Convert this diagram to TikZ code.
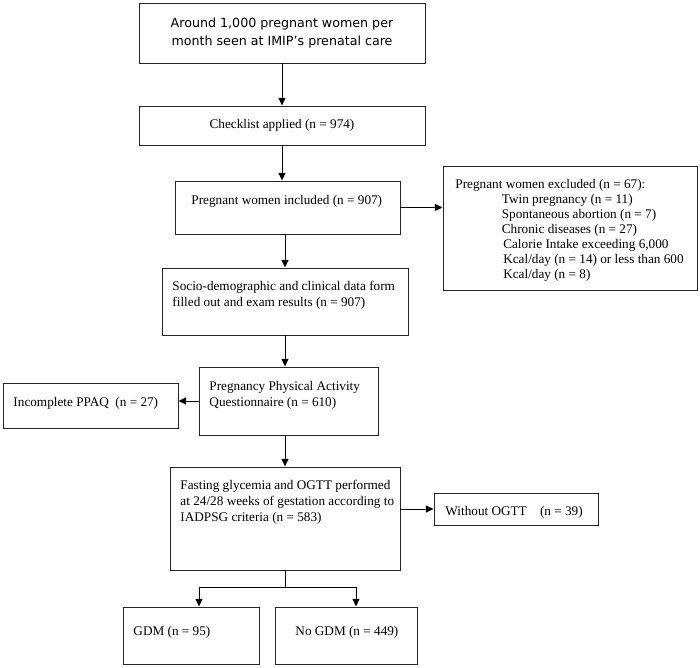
\documentclass[tikz,border=0pt]{standalone}
\usepackage{fontspec}
\setmainfont{Liberation Serif}
\newfontfamily\topfont{DejaVu Sans}
\usetikzlibrary{arrows.meta}

\begin{document}
\begin{tikzpicture}
            [x=0.025cm, y=-0.025cm, >={Triangle[length=5.5pt,width=5pt]}, line width=0.7pt,
             box/.style n args={2}{draw=black!85, minimum width=#1*0.025cm, minimum height=#2*0.025cm, inner sep=0pt},
             txt/.style={anchor=north west, inner sep=0pt, align=left, font=\fontsize{9.4}{11.4}\selectfont}]
            \useasboundingbox (0,0) rectangle (700,667);

            \node[box={286}{60}, align=center, font=\topfont\fontsize{9}{12.8}\selectfont] (start) at (282,33) {Around 1,000 pregnant women per\\month seen at IMIP’s prenatal care};
            \node[box={286}{39}, font=\fontsize{9.4}{11.4}\selectfont] (check) at (282,125.5) {Checklist applied (n = 974)};
            \node[box={225}{53}] (incl) at (287.5,207.5) {};
            \node[box={254}{124}] (excl) at (570,228) {};
            \node[box={246}{67}] (socio) at (285,301.5) {};
            \node[box={179}{68}] (ppaq) at (288.5,401) {};
            \node[box={175}{45}] (incpl) at (90.5,405.5) {};
            \node[box={230}{103}] (ogtt) at (285,518.5) {};
            \node[box={164}{32}] (noogtt) at (516,509) {};
            \node[box={136}{57}] (gdm) at (191,635.5) {};
            \node[box={142}{57}] (nogdm) at (346,635.5) {};

            % texts inside the boxes
            \node[txt] (incltext) at (191,195) {Pregnant women included (n = 907)};
            \node[txt, font=\fontsize{9.4}{10.7}\selectfont] (excltext) at (455,179) {Pregnant women excluded (n = 67):\\
                \hspace*{33pt}Twin pregnancy (n = 11)\\
                \hspace*{33pt}Spontaneous abortion (n = 7)\\
                \hspace*{33pt}Chronic diseases (n = 27)\\
                \hspace*{34pt}Calorie Intake exceeding 6,000\\
                \hspace*{34pt}Kcal/day (n = 14) or less than 600\\
                \hspace*{34pt}Kcal/day (n = 8)};
            \node[txt] (sociotext) at (172,281) {Socio-demographic and clinical data form\\filled out and exam results (n = 907)};
            \node[txt] (ppaqtext) at (209,381) {Pregnancy Physical Activity\\Questionnaire (n = 610)};
            \node[txt] (incpltext) at (13,397) {Incomplete PPAQ\ \ (n = 27)};
            \node[txt] (ogtttext) at (180,480) {Fasting glycemia and OGTT performed\\at 24/28 weeks of gestation according to\\IADPSG criteria (n = 583)};
            \node[txt] (noogtttext) at (445,506) {Without OGTT\ \ \ \ (n = 39)};
            \node[txt] (gdmtext) at (133,626) {GDM (n = 95)};
            \node[txt] (nogdmtext) at (295,626) {No GDM (n = 449)};

            \coordinate (split) at (285,587);

            \path [->] (start.south) edge (check.north);
            \path [->] (check.south) edge (check.south |- incl.north);
            \path [->] (incl.east) edge (incl.east -| excl.west);
            \path [->] (socio.north |- incl.south) edge (socio.north);
            \path [->] (socio.south) edge (socio.south |- ppaq.north);
            \path [->] (ppaq.west) edge (ppaq.west -| incpl.east);
            \path [->] (ogtt.north |- ppaq.south) edge (ogtt.north);
            \path [->] (ogtt.east |- noogtt.west) edge (noogtt.west);
            \draw (ogtt.south) -- (split);
            \draw [->] (split) -| ([xshift=0.2cm]gdm.north);
            \draw [->] (split) -| ([xshift=0.25cm]nogdm.north);
        \end{tikzpicture}
\end{document}
